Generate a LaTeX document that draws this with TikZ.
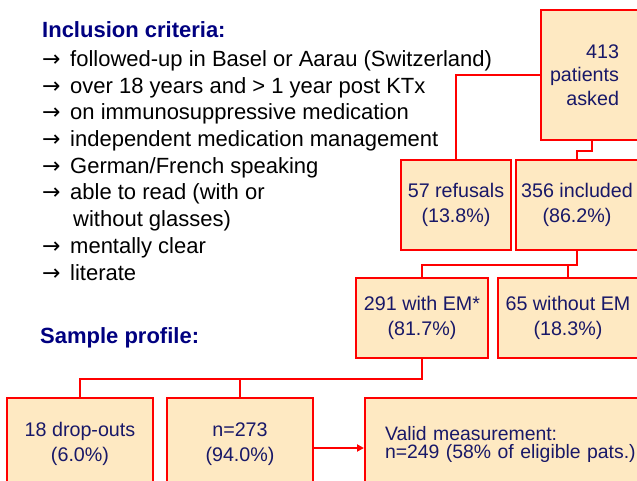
\documentclass[tikz,border=0pt]{standalone}
\usepackage{fontspec}
\setmainfont{Liberation Sans}
\newfontfamily\arrowfont{DejaVu Sans}
\usepackage{tikz}
\usetikzlibrary{positioning,arrows.meta,calc}
\usepackage{xcolor}

\definecolor{boxfill}{RGB}{254,233,194}
\definecolor{boxline}{RGB}{255,0,0}
\definecolor{navytext}{RGB}{24,24,104}
\definecolor{headblue}{RGB}{0,0,128}
\newcommand{\critfont}{\fontsize{22}{26.7}\selectfont}
\newcommand{\boxfont}{\fontsize{19.7}{25}\selectfont}

\begin{document}
\begin{tikzpicture}[x=1pt, y=-1pt, block/.style = {draw=boxline, line width=2pt, fill=boxfill, rectangle, inner sep=0pt, text=navytext, font=\boxfont},
                 crit/.style = {anchor=base west, inner sep=0pt, font=\critfont},
                 head/.style = {anchor=base west, inner sep=0pt, font=\critfont\bfseries, text=headblue},
                 link/.style = {draw=boxline, line width=2pt}]

\useasboundingbox (0,0) rectangle (637,481);

% Criteria list
\node (inclusion) [head] at (42,37.5) {Inclusion criteria:};
\foreach \k/\txt in {0/{followed-up in Basel or Aarau (Switzerland)}, 1/{over 18 years and > 1 year post KTx}, 2/{on immunosuppressive medication}, 3/{independent medication management}, 4/{German/French speaking}, 5/{able to read (with or}, 7/{mentally clear}, 8/{literate}}
  \node (crit\k) [crit] at (42,66.5+26.7*\k) {\makebox[28pt][l]{\arrowfont →}\txt};
\node (crit6) [crit] at (73,66.5+26.7*6) {without glasses)};
\node (profile) [head] at (40,343) {Sample profile:};

% Nodes
\node (asked) [block, minimum width=102pt, minimum height=130pt] at (592,75) {\parbox{70pt}{\fontsize{19.7}{23.5}\selectfont\raggedleft 413\\ patients\\ asked}\hspace*{16pt}};
\node (refusals) [block, align=center, minimum width=110pt, minimum height=90pt] at (456,205) {57 refusals\\ (13.8\%)};
\node (included) [block, align=center, minimum width=122pt, minimum height=90pt, right=3pt of refusals] {356 included\\ (86.2\%)};
\node (withem) [block, align=center, minimum width=132pt, minimum height=80pt] at (422,318) {291 with EM*\\ (81.7\%)};
\node (withoutem) [block, align=center, minimum width=140pt, minimum height=80pt, right=8pt of withem] {65 without EM\\ (18.3\%)};
\node (dropouts) [block, align=center, minimum width=146pt, minimum height=92pt] at (80,444) {18 drop-outs\\ (6.0\%)};
\node (n273) [block, align=center, minimum width=146pt, minimum height=92pt, right=12pt of dropouts] {n=273\\ (94.0\%)};
\node (valid) [block, align=left, text width=270pt, minimum width=310pt, minimum height=92pt, font=\fontsize{19.4}{18}\selectfont, right=50pt of n273] {Valid measurement:\\ n=249 (58\% of eligible pats.)};

% Connectors
\draw [link] (asked.west) -| (refusals.north);
\draw [link] (asked.south) -- ++(0,10) -| (included.north);
\draw [link] (included.south) -- ++(0,14) coordinate (split1) -| (withem.north);
\draw [link] (split1) -| (withoutem.north);
\draw [link] (withem.south) -- ++(0,20) coordinate (split2) -| (dropouts.north);
\draw [link] (split2) -| (n273.north);
\draw [link, -{Triangle[length=7pt,width=7pt]}] ([yshift=-4pt]n273.east) -- ([yshift=-4pt]n273.east -| valid.west);
\end{tikzpicture}
\end{document}
